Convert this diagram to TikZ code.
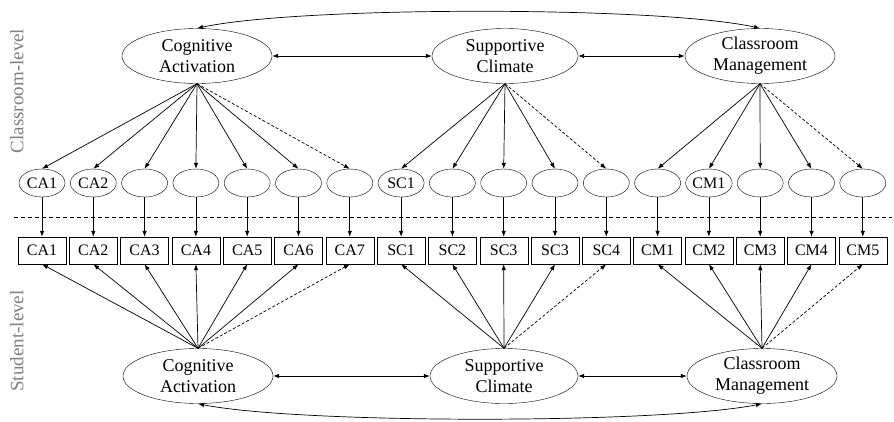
\documentclass[tikz,border=0pt]{standalone}
\usepackage{fontspec}
\setmainfont{Liberation Serif}
\usetikzlibrary{shapes.geometric,arrows.meta}
\tikzset{
  bigell/.style={draw, ellipse, minimum width=150pt, minimum height=55pt, inner sep=0pt,
    align=center, font=\fontsize{18}{21}\selectfont},
  smallell/.style={draw, ellipse, minimum width=46pt, minimum height=28pt, inner sep=0pt,
    font=\fontsize{16}{18}\selectfont},
  obsbox/.style={draw, rectangle, minimum width=48pt, minimum height=27pt, inner sep=0pt,
    font=\fontsize{16}{18}\selectfont},
  conn/.style={line width=0.7pt, -{Latex[length=6pt,width=4.5pt]}},
  dconn/.style={conn, dashed, dash pattern=on 3pt off 2pt},
  biconn/.style={line width=0.7pt, {Latex[length=6pt,width=4.5pt]}-{Latex[length=6pt,width=4.5pt]}},
  sidelab/.style={rotate=90, text=black!50, font=\fontsize{19}{21}\selectfont}
}
\begin{document}
\begin{tikzpicture}[x=1pt,y=-1pt]
\fill[white] (0,0) rectangle (894,421);
% side labels
\node[sidelab] (lc) at (17,91) {Classroom-level};
\node[sidelab] (ls) at (17,341) {Student-level};
% separator
\coordinate (sepL) at (14,217);
\coordinate (sepR) at (892,217);
\draw[line width=0.6pt, dashed, dash pattern=on 4pt off 3pt] (sepL) -- (sepR);
% top latent
\node[bigell] (cca) at (197,56) {Cognitive\\Activation};
\node[bigell, minimum width=146pt] (csc) at (505,56) {Supportive\\Climate};
\node[bigell] (ccm) at (760,56) {Classroom\\Management};
% bottom latent
\node[bigell] (sca) at (198,376) {Cognitive\\Activation};
\node[bigell, minimum width=148pt] (ssc) at (504,376) {Supportive\\Climate};
\node[bigell] (scm) at (762,376) {Classroom\\Management};
% small ellipses and boxes
\foreach \i/\el/\bl in {0/CA1/CA1,1/CA2/CA2,2//CA3,3//CA4,4//CA5,5//CA6,6//CA7,
  7/SC1/SC1,8//SC2,9//SC3,10//SC3,11//SC4,
  12//CM1,13/CM1/CM2,14//CM3,15//CM4,16//CM5}{
  \node[smallell] (e\i) at ({42+51.3*\i},183) {\el};
  \node[obsbox] (b\i) at ({42+51.3*\i},250.5) {\bl};
  \draw[conn] (e\i.south) -- (b\i.north);
}
% top fans
\foreach \i in {0,...,5}{\draw[conn] (cca.south) -- (e\i.north);}
\draw[dconn] (cca.south) -- (e6.north);
\foreach \i in {7,...,10}{\draw[conn] (csc.south) -- (e\i.north);}
\draw[dconn] (csc.south) -- (e11.north);
\foreach \i in {12,...,15}{\draw[conn] (ccm.south) -- (e\i.north);}
\draw[dconn] (ccm.south) -- (e16.north);
% bottom fans
\foreach \i in {0,...,5}{\draw[conn] (sca.north) -- (b\i.south);}
\draw[dconn] (sca.north) -- (b6.south);
\foreach \i in {7,...,10}{\draw[conn] (ssc.north) -- (b\i.south);}
\draw[dconn] (ssc.north) -- (b11.south);
\foreach \i in {12,...,15}{\draw[conn] (scm.north) -- (b\i.south);}
\draw[dconn] (scm.north) -- (b16.south);
% correlations
\draw[biconn] (cca.east) -- (csc.west);
\draw[biconn] (csc.east) -- (ccm.west);
\draw[biconn] (sca.east) -- (ssc.west);
\draw[biconn] (ssc.east) -- (scm.west);
\draw[biconn] (cca.north) .. controls (300,6) and (660,6) .. (ccm.north);
\draw[biconn] (sca.south) .. controls (300,424) and (660,424) .. (scm.south);
\pgfresetboundingbox
\useasboundingbox (0,0) rectangle (894,421);
\end{tikzpicture}
\end{document}
